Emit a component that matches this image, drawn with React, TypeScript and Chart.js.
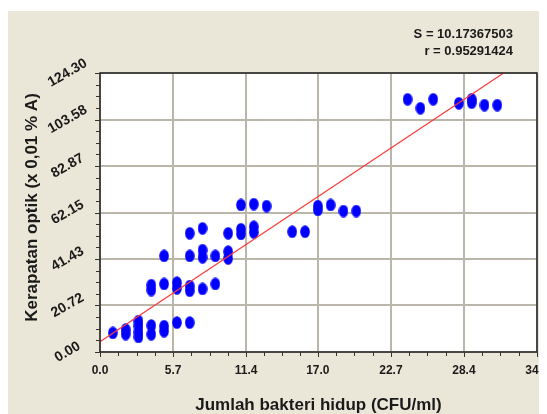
import React, { useEffect, useRef } from "react";
import { Chart, registerables } from "chart.js";

Chart.register(...registerables);

// ---- data ----
const xTicks = [0, 5.7, 11.4, 17.0, 22.7, 28.4, 34.1];
const yTicks = [0, 20.72, 41.43, 62.15, 82.87, 103.58, 124.3];

const bacteriaX = [
  1,
  2, 2,
  3, 3, 3, 3,
  4, 4, 4, 4,
  5, 5, 5, 5,
  6, 6, 6,
  7, 7, 7, 7, 7,
  8, 8, 8, 8,
  9, 9,
  10, 10, 10,
  11, 11, 11,
  12, 12, 12,
  13,
  15,
  16,
  17, 17,
  18,
  19,
  20,
  24,
  25,
  26,
  28,
  29, 29,
  30,
  31,
];
const opticalY = [
  8.5,
  10.0, 8.0,
  13.8, 11.6, 8.9, 6.7,
  11.8, 7.9, 29.8, 27.6,
  11.5, 9.3, 30.3, 42.8,
  13.1, 30.9, 28.4,
  13.1, 29.4, 27.3, 42.8, 52.9,
  28.1, 45.4, 42.2, 55.1,
  30.3, 42.8,
  44.7, 41.7, 52.9,
  54.7, 52.6, 65.5,
  55.8, 53.3, 65.9,
  65.0,
  53.6,
  53.6,
  65.0, 63.3,
  65.5,
  62.8,
  62.8,
  112.6,
  108.6,
  112.6,
  110.8,
  112.6, 111.1,
  110.0,
  110.0,
];

const fitX = [0, 31.5];
const fitY = [4.6, 124.3];

const statLines = ["S = 10.17367503", "r = 0.95291424"];
const xTitle = "Jumlah bakteri hidup (CFU/ml)";
const yTitle = "Kerapatan optik (x 0,01 % A)";

const FONT = "'Liberation Sans', Arial, sans-serif";
const TEXT = "#1a1a1a";
const BG = "#ebe7d8";
const GRID = "#bab6a9";

const decorPlugin = {
  id: "decor",
  beforeDraw(chart: any) {
    const { ctx, chartArea: a, width, height } = chart;
    ctx.save();
    ctx.fillStyle = BG;
    ctx.fillRect(0, 0, width, height);
    ctx.fillStyle = "#ffffff";
    ctx.fillRect(a.left, a.top, a.right - a.left, a.bottom - a.top);
    ctx.restore();
  },
  afterDatasetsDraw(chart: any) {
    const { ctx, chartArea: a, scales } = chart;
    ctx.save();
    // frame
    ctx.strokeStyle = "#222222";
    ctx.lineWidth = 1.5;
    ctx.strokeRect(a.left, a.top, a.right - a.left, a.bottom - a.top);
    // ticks
    ctx.lineWidth = 1;
    ctx.strokeStyle = "#333333";
    const xs = xTicks.map((v) => scales.x.getPixelForValue(v));
    const ys = yTicks.map((v) => scales.y.getPixelForValue(v));
    ctx.beginPath();
    for (let i = 0; i < xs.length; i++) {
      const px = Math.round(xs[i]) + 0.5;
      ctx.moveTo(px, a.bottom);
      ctx.lineTo(px, a.bottom + 5);
      if (i < xs.length - 1) {
        for (let k = 1; k < 4; k++) {
          const m = Math.round(xs[i] + ((xs[i + 1] - xs[i]) * k) / 4) + 0.5;
          ctx.moveTo(m, a.bottom);
          ctx.lineTo(m, a.bottom + 4);
        }
      }
    }
    for (let i = 0; i < ys.length; i++) {
      const py = Math.round(ys[i]) + 0.5;
      ctx.moveTo(a.left, py);
      ctx.lineTo(a.left - 5, py);
      if (i < ys.length - 1) {
        for (let k = 1; k < 4; k++) {
          const m = Math.round(ys[i] + ((ys[i + 1] - ys[i]) * k) / 4) + 0.5;
          ctx.moveTo(a.left, m);
          ctx.lineTo(a.left - 4, m);
        }
      }
    }
    ctx.stroke();
    ctx.restore();
  },
  afterDraw(chart: any) {
    const { ctx, chartArea: a } = chart;
    ctx.save();
    ctx.fillStyle = TEXT;
    ctx.font = `bold 13px ${FONT}`;
    ctx.textAlign = "right";
    ctx.textBaseline = "middle";
    ctx.fillText(statLines[0], 505, 23.5);
    ctx.fillText(statLines[1], 505, 40);
    // y title
    ctx.font = `bold 17px ${FONT}`;
    ctx.textAlign = "center";
    ctx.translate(24.5, (a.top + a.bottom) / 2 - 5);
    ctx.rotate(-Math.PI / 2);
    ctx.fillText(yTitle, 0, 0);
    ctx.restore();
  },
};

export default function App() {
  const ref = useRef<HTMLCanvasElement | null>(null);

  useEffect(() => {
    const canvas = ref.current;
    if (!canvas) return;

    const dot = document.createElement("canvas");
    dot.width = 10;
    dot.height = 13;
    const dc = dot.getContext("2d")!;
    dc.fillStyle = "#0000ff";
    dc.beginPath();
    dc.ellipse(5, 6.5, 4.8, 6.3, 0, 0, Math.PI * 2);
    dc.fill();

    const points = bacteriaX.map((x, i) => ({ x, y: opticalY[i] }));
    const fit = fitX.map((x, i) => ({ x, y: fitY[i] }));

    const chart = new Chart(canvas, {
      type: "scatter",
      data: {
        datasets: [
          {
            type: "line",
            data: fit,
            borderColor: "#ff3a3a",
            borderWidth: 1.2,
            pointRadius: 0,
            fill: false,
          } as any,
          {
            type: "scatter",
            data: points,
            pointStyle: dot as any,
            pointRadius: 6,
            backgroundColor: "#0000ff",
            borderColor: "#0000ff",
          } as any,
        ],
      },
      options: {
        animation: false,
        responsive: false,
        devicePixelRatio: 1,
        layout: { padding: { top: 62, right: 10, left: 0, bottom: 0 } },
        plugins: {
          legend: { display: false },
          tooltip: { enabled: false },
        },
        scales: {
          x: {
            type: "linear",
            min: 0,
            max: 34.1,
            afterBuildTicks: (scale: any) => {
              scale.ticks = xTicks.map((v) => ({ value: v }));
            },
            afterFit: (scale: any) => {
              scale.height = 62;
              scale.paddingLeft = 0;
              scale.paddingRight = 0;
            },
            ticks: {
              autoSkip: false,
              maxRotation: 0,
              padding: 11,
              color: TEXT,
              font: { family: FONT, size: 12, weight: "bold" },
              callback: (v: any) => Number(v).toFixed(1),
            },
            grid: { color: GRID, lineWidth: 2, drawTicks: false },
            border: { display: false },
            title: {
              display: true,
              text: xTitle,
              color: TEXT,
              padding: 0,
              font: { family: FONT, size: 17, weight: "bold", lineHeight: 1 },
            },
          },
          y: {
            type: "linear",
            min: 0,
            max: 124.3,
            afterBuildTicks: (scale: any) => {
              scale.ticks = yTicks.map((v) => ({ value: v }));
            },
            afterFit: (scale: any) => {
              scale.width = 92;
              scale.paddingTop = 0;
              scale.paddingBottom = 0;
            },
            ticks: {
              autoSkip: false,
              minRotation: 30,
              maxRotation: 30,
              crossAlign: "center",
              padding: 11,
              color: TEXT,
              font: { family: FONT, size: 14, weight: "bold" },
              callback: (v: any) => Number(v).toFixed(2),
            },
            grid: { color: GRID, lineWidth: 2, drawTicks: false },
            border: { display: false },
          },
        },
      } as any,
      plugins: [decorPlugin],
    });

    return () => chart.destroy();
  }, []);

  return (
    <div style={{ paddingTop: 3 }}>
      <canvas ref={ref} width={539} height={403} style={{ display: "block" }} />
    </div>
  );
}
